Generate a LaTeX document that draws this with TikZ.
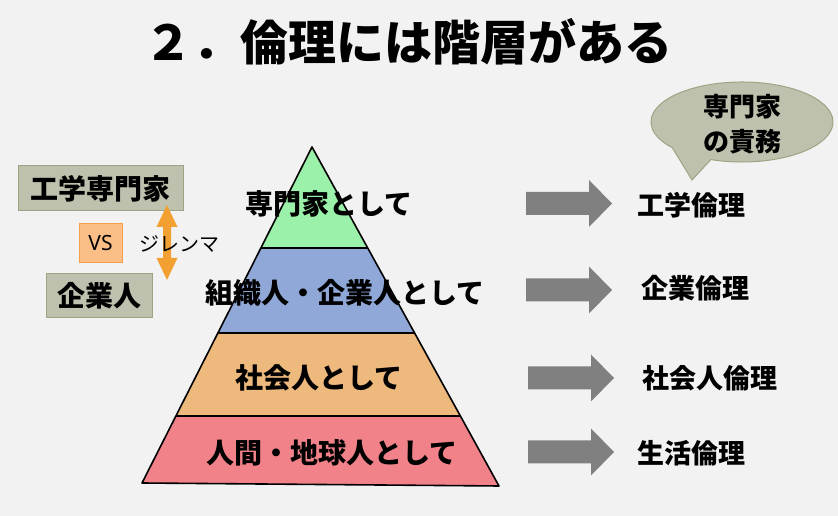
\documentclass[tikz,border=0pt]{standalone}
\usepackage{fontspec}
\setmainfont{Noto Sans CJK JP}
\newfontfamily\vsfont{Noto Sans}
\definecolor{bg}{HTML}{F2F2F2}
\definecolor{boxfill}{HTML}{BEC1AD}
\definecolor{boxline}{HTML}{9BA582}
\definecolor{vsfill}{HTML}{FBBE87}
\definecolor{vsline}{HTML}{F5A046}
\definecolor{orarrow}{HTML}{F2A032}
\definecolor{lvgreen}{HTML}{9BF0AA}
\definecolor{lvblue}{HTML}{8FA8D8}
\definecolor{lvorange}{HTML}{EEB97D}
\definecolor{lvred}{HTML}{F2828A}
\definecolor{arrgray}{HTML}{808080}
\tikzset{
  lbl/.style={inner sep=0pt, font=\bfseries\fontsize{28}{30}\selectfont},
  rlbl/.style={inner sep=0pt, font=\bfseries\fontsize{27}{29}\selectfont},
  greybox/.style={fill=boxfill, draw=boxline, line width=1pt},
  blockarr/.pic={\fill[arrgray] (0,-11.5) -- (63,-11.5) -- (63,-23.5) -- (86,0) -- (63,23.5) -- (63,11.5) -- (0,11.5) -- cycle;}
}
\begin{document}
\begin{tikzpicture}[x=1pt,y=1pt]
\fill[bg] (0,0) rectangle (838,516);
\useasboundingbox (0,0) rectangle (838,516);
% title
\node[inner sep=0pt, font=\bfseries\fontsize{48}{50}\selectfont] (title) at (408,474) {２．倫理には階層がある};
% pyramid
\coordinate (A) at (312,369);
\coordinate (L1) at (261,268); \coordinate (R1) at (368,268);
\coordinate (L2) at (218,183); \coordinate (R2) at (415,183);
\coordinate (L3) at (176,100); \coordinate (R3) at (460,100);
\coordinate (BL) at (142,33); \coordinate (BR) at (499,30);
\fill[lvgreen] (A) -- (L1) -- (R1) -- cycle;
\fill[lvblue] (L1) -- (L2) -- (R2) -- (R1) -- cycle;
\fill[lvorange] (L2) -- (L3) -- (R3) -- (R2) -- cycle;
\fill[lvred] (L3) -- (BL) -- (BR) -- (R3) -- cycle;
\draw[line width=1.6pt, line join=round] (A) -- (BL) -- (BR) -- cycle;
\draw[line width=1.5pt] (L1) -- (R1) (L2) -- (R2) (L3) -- (R3);
\node[lbl] (p1) at (329,312) {専門家として};
\node[lbl] (p2) at (345,223) {組織人・企業人として};
\node[lbl] (p3) at (319,138) {社会人として};
\node[lbl] (p4) at (332,63) {人間・地球人として};
% left boxes
\node[greybox, minimum width=165pt, minimum height=45pt, inner sep=0pt, font=\bfseries\fontsize{28}{30}\selectfont] (eng) at (100.5,327.5) {工学専門家};
\node[fill=vsfill, draw=vsline, line width=1pt, minimum width=43pt, minimum height=39pt, inner sep=0pt, font=\vsfont\fontsize{21}{23}\selectfont] (vs) at (100.5,272.5) {VS};
\node[greybox, minimum width=106pt, minimum height=44pt, inner sep=0pt, font=\bfseries\fontsize{28}{30}\selectfont] (corp) at (99,220) {企業人};
% orange double arrow
\fill[orarrow] (167,311) -- (177.5,289) -- (171,289) -- (171,258) -- (177.5,258) -- (167,236) -- (156.5,258) -- (163,258) -- (163,289) -- (156.5,289) -- cycle;
\node[inner sep=0pt, font=\fontsize{20}{22}\selectfont] (dil) at (179,272) {ジレンマ};
% callout
\filldraw[fill=boxfill, draw=boxline, line width=1pt] ({742+91*cos(220)},{394+40*sin(220)}) -- (692,336) -- ({742+91*cos(250)},{394+40*sin(250)}) arc[start angle=250, end angle=580, x radius=91, y radius=40] -- cycle;
\node[inner sep=0pt, font=\bfseries\fontsize{26}{28}\selectfont] (c1) at (742,409) {専門家};
\node[inner sep=0pt, font=\bfseries\fontsize{26}{28}\selectfont] (c2) at (742,374) {の責務};
% gray arrows
\pic at (526,312.5) {blockarr};
\pic at (526,226) {blockarr};
\pic at (528,138) {blockarr};
\pic at (528,64) {blockarr};
% right labels
\node[rlbl] (r1) at (691,311) {工学倫理};
\node[rlbl] (r2) at (695,228) {企業倫理};
\node[rlbl] (r3) at (710,138) {社会人倫理};
\node[rlbl] (r4) at (691,63) {生活倫理};
\end{tikzpicture}
\end{document}
